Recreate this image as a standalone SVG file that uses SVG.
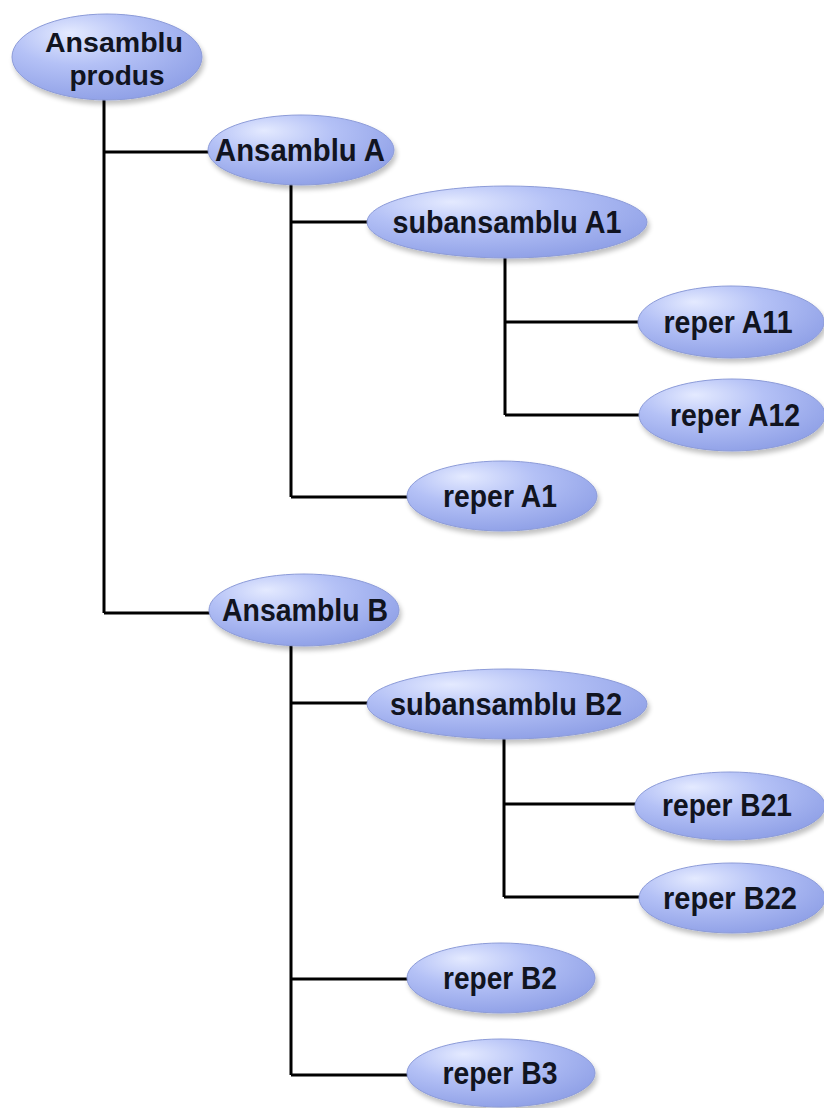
<svg xmlns="http://www.w3.org/2000/svg" width="824" height="1108" viewBox="0 0 824 1108">
  <defs>
    <radialGradient id="bubble" cx="0.38" cy="0.3" r="0.75" fx="0.3" fy="0.22">
      <stop offset="0" stop-color="#e4eaff"/>
      <stop offset="0.45" stop-color="#b4c1f6"/>
      <stop offset="1" stop-color="#8e9fe6"/>
    </radialGradient>
    <filter id="shade" x="-10%" y="-15%" width="125%" height="140%">
      <feGaussianBlur in="SourceAlpha" stdDeviation="2.5"/>
      <feOffset dx="2" dy="4" result="off"/>
      <feComponentTransfer><feFuncA type="linear" slope="0.25"/></feComponentTransfer>
      <feMerge><feMergeNode/><feMergeNode in="SourceGraphic"/></feMerge>
    </filter>
  </defs>
  <style>
    .node ellipse { fill: url(#bubble); stroke: #8c9bd8; stroke-width: 1; filter: url(#shade); }
    .node text { font-family: "Liberation Sans", Arial, sans-serif; font-weight: bold; font-size: 32px; fill: #111420; text-anchor: middle; }
    .node text.two-line { font-size: 28px; }
    .links path { fill: none; stroke: #000; stroke-width: 3; }
  </style>
  <rect width="824" height="1108" fill="#fff"/>

  <!-- tree lines -->
  <g class="links">
    <path d="M104 98 V613 M104 152 H210 M104 613 H212"/>
    <path d="M291 184 V497 M291 222 H370 M291 497 H410"/>
    <path d="M505 256 V415 M505 322 H640 M505 415 H642"/>
    <path d="M291 645 V1075 M291 703 H370 M291 979 H410 M291 1075 H410"/>
    <path d="M504 737 V897 M504 804 H638 M504 897 H642"/>
  </g>

  <g id="ansamblu-produs" class="node">
    <ellipse cx="107" cy="57" rx="95" ry="43"/>
    <text class="two-line" x="114" y="52" textLength="138" lengthAdjust="spacingAndGlyphs">Ansamblu</text>
    <text class="two-line" x="117" y="85" textLength="95" lengthAdjust="spacingAndGlyphs">produs</text>
  </g>
  <g id="ansamblu-a" class="node">
    <ellipse cx="301" cy="150" rx="93" ry="35"/>
    <text x="300" y="161" textLength="170" lengthAdjust="spacingAndGlyphs">Ansamblu A</text>
  </g>
  <g id="subansamblu-a1" class="node">
    <ellipse cx="507" cy="222" rx="140" ry="36"/>
    <text x="507" y="233" textLength="229" lengthAdjust="spacingAndGlyphs">subansamblu A1</text>
  </g>
  <g id="reper-a11" class="node">
    <ellipse cx="731" cy="322" rx="93" ry="36"/>
    <text x="728" y="333" textLength="129" lengthAdjust="spacingAndGlyphs">reper A11</text>
  </g>
  <g id="reper-a12" class="node">
    <ellipse cx="732" cy="415" rx="93" ry="36"/>
    <text x="735" y="426" textLength="130" lengthAdjust="spacingAndGlyphs">reper A12</text>
  </g>
  <g id="reper-a1" class="node">
    <ellipse cx="502" cy="496" rx="95" ry="35"/>
    <text x="500" y="507" textLength="114" lengthAdjust="spacingAndGlyphs">reper A1</text>
  </g>
  <g id="ansamblu-b" class="node">
    <ellipse cx="304" cy="610" rx="95" ry="36"/>
    <text x="305" y="621" textLength="166" lengthAdjust="spacingAndGlyphs">Ansamblu B</text>
  </g>
  <g id="subansamblu-b2" class="node">
    <ellipse cx="507" cy="704" rx="140" ry="35"/>
    <text x="506" y="715" textLength="232" lengthAdjust="spacingAndGlyphs">subansamblu B2</text>
  </g>
  <g id="reper-b21" class="node">
    <ellipse cx="730" cy="806" rx="95" ry="34"/>
    <text x="727" y="816" textLength="130" lengthAdjust="spacingAndGlyphs">reper B21</text>
  </g>
  <g id="reper-b22" class="node">
    <ellipse cx="732" cy="898" rx="93" ry="35"/>
    <text x="730" y="909" textLength="134" lengthAdjust="spacingAndGlyphs">reper B22</text>
  </g>
  <g id="reper-b2" class="node">
    <ellipse cx="501" cy="978" rx="94" ry="35"/>
    <text x="500" y="989" textLength="114" lengthAdjust="spacingAndGlyphs">reper B2</text>
  </g>
  <g id="reper-b3" class="node">
    <ellipse cx="501" cy="1073" rx="94" ry="34"/>
    <text x="500" y="1084" textLength="115" lengthAdjust="spacingAndGlyphs">reper B3</text>
  </g>
</svg>
